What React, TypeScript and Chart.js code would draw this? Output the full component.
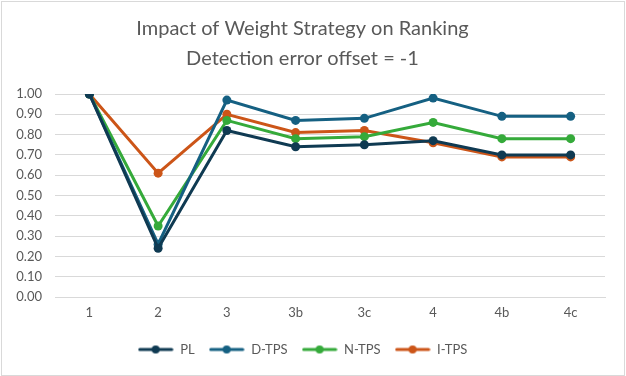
import React, { useEffect, useRef } from "react";
import { Chart, registerables } from "chart.js";

Chart.register(...registerables);

const categories = ["1", "2", "3", "3b", "3c", "4", "4b", "4c"];
const plValues = [1.0, 0.24, 0.82, 0.74, 0.75, 0.77, 0.7, 0.7];
const dtpsValues = [1.0, 0.26, 0.97, 0.87, 0.88, 0.98, 0.89, 0.89];
const ntpsValues = [1.0, 0.35, 0.87, 0.78, 0.79, 0.86, 0.78, 0.78];
const itpsValues = [1.0, 0.61, 0.9, 0.81, 0.82, 0.76, 0.69, 0.69];
const seriesNames = ["PL", "D-TPS", "N-TPS", "I-TPS"];
const seriesColors = ["#0F3A52", "#156082", "#35AA3A", "#CC5518"];
const titleLines = ["Impact of Weight Strategy on Ranking", "Detection error offset = -1"];

const FONT = "Lato, 'Open Sans', sans-serif";

function legendImage(color: string) {
  const c = document.createElement("canvas");
  c.width = 36;
  c.height = 12;
  const ctx = c.getContext("2d")!;
  ctx.strokeStyle = color;
  ctx.lineWidth = 3;
  ctx.lineCap = "round";
  ctx.beginPath();
  ctx.moveTo(2, 6);
  ctx.lineTo(34, 6);
  ctx.stroke();
  ctx.fillStyle = color;
  ctx.beginPath();
  ctx.arc(18, 6, 4, 0, Math.PI * 2);
  ctx.fill();
  return c;
}

const borderPlugin = {
  id: "outerBorder",
  afterDraw(chart: any) {
    const ctx = chart.ctx;
    ctx.save();
    ctx.strokeStyle = "#d9d9d9";
    ctx.lineWidth = 1;
    ctx.strokeRect(1.5, 1.5, chart.width - 3, chart.height - 2);
    ctx.restore();
  },
};

export default function App() {
  const ref = useRef<HTMLCanvasElement>(null);
  useEffect(() => {
    document.body.style.margin = "0";
    const all = [plValues, dtpsValues, ntpsValues, itpsValues];
    const chart = new Chart(ref.current!, {
      type: "line",
      data: {
        labels: categories,
        datasets: all.map((vals, i) => ({
          label: seriesNames[i],
          data: vals,
          borderColor: seriesColors[i],
          backgroundColor: seriesColors[i],
          borderWidth: 3,
          pointRadius: 4.5,
          pointHoverRadius: 4.5,
          pointBorderWidth: 0,
          tension: 0,
          pointStyle: "circle",
        })),
      },
      options: {
        animation: false,
        responsive: false,
        maintainAspectRatio: false,
        layout: { padding: { left: 0, right: 21, top: 0, bottom: 10 } },
        plugins: {
          tooltip: { enabled: false },
          title: {
            display: true,
            text: titleLines,
            color: "#595959",
            font: { family: FONT, size: 20, weight: "normal", lineHeight: 1.5 },
            padding: { top: 14, bottom: 20 },
          },
          legend: {
            position: "bottom",
            labels: {
              usePointStyle: true,
              pointStyleWidth: 36,
              color: "#595959",
              font: { family: FONT, size: 13 },
              padding: 14,
              generateLabels: (chart: any) =>
                chart.data.datasets.map((ds: any, i: number) => ({
                  text: ds.label,
                  fillStyle: seriesColors[i],
                  strokeStyle: seriesColors[i],
                  lineWidth: 0,
                  pointStyle: legendImage(seriesColors[i]),
                  datasetIndex: i,
                  hidden: false,
                  fontColor: "#595959",
                })),
            },
          },
        },
        scales: {
          x: {
            offset: true,
            grid: { display: false, drawTicks: false, offset: true },
            border: { display: true, color: "#d9d9d9" },
            ticks: { color: "#595959", font: { family: FONT, size: 13 }, padding: 8 },
            afterFit: (s: any) => {
              s.height = 32;
            },
          },
          y: {
            min: 0,
            max: 1,
            ticks: {
              stepSize: 0.1,
              color: "#595959",
              font: { family: FONT, size: 13 },
              padding: 13,
              callback: (v: any) => Number(v).toFixed(2),
            },
            grid: { color: "#d9d9d9", drawTicks: false },
            border: { display: false },
            afterFit: (s: any) => {
              s.width = 55;
            },
          },
        },
      },
      plugins: [borderPlugin],
    });
    return () => chart.destroy();
  }, []);
  return <canvas ref={ref} width={626} height={376} style={{ display: "block" }} />;
}
